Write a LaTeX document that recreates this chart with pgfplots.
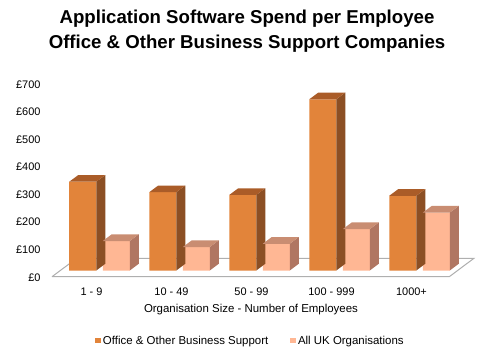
\documentclass[border=0pt]{standalone}
\usepackage{pgfplots}
\usepackage{pgfplotstable}
\pgfplotsset{compat=1.18}
\usepackage{fontspec}
\setmainfont{Liberation Sans}
\definecolor{ofront}{RGB}{226,132,58}
\definecolor{oside}{RGB}{140,79,36}
\definecolor{otop}{RGB}{170,92,40}
\definecolor{pfront}{RGB}{255,183,148}
\definecolor{pside}{RGB}{176,118,98}
\definecolor{ptop}{RGB}{201,141,114}
\definecolor{floorline}{RGB}{175,175,175}

\pgfplotstableread[row sep=\\]{x v\\ 0 322\\ 1 284\\ 2 274\\ 3 621\\ 4 271\\}\orangedata
\pgfplotstableread[row sep=\\]{x v\\ 0 107\\ 1 85\\ 2 97\\ 3 150\\ 4 210\\}\pinkdata

% side and top faces of a bar, drawn at the bar's top (value from the table)
\pgfdeclareplotmark{ocube}{%
  \pgfmathsetmacro\hh{\h*0.2757}%
  \pgfsetfillcolor{oside}%
  \pgfpathmoveto{\pgfpoint{-3.25bp}{0bp}}%
  \pgfpathlineto{\pgfpoint{5.75bp}{6.7bp}}%
  \pgfpathlineto{\pgfpoint{5.75bp}{6.7bp-\hh bp}}%
  \pgfpathlineto{\pgfpoint{-3.25bp}{-\hh bp}}%
  \pgfpathclose\pgfusepath{fill}%
  \pgfsetfillcolor{otop}%
  \pgfpathmoveto{\pgfpoint{-30.25bp}{0bp}}%
  \pgfpathlineto{\pgfpoint{-3.25bp}{0bp}}%
  \pgfpathlineto{\pgfpoint{5.75bp}{6.7bp}}%
  \pgfpathlineto{\pgfpoint{-21.25bp}{6.7bp}}%
  \pgfpathclose\pgfusepath{fill}%
}
\pgfdeclareplotmark{pcube}{%
  \pgfmathsetmacro\hh{\h*0.2757}%
  \pgfsetfillcolor{pside}%
  \pgfpathmoveto{\pgfpoint{30.25bp}{0bp}}%
  \pgfpathlineto{\pgfpoint{39.25bp}{6.7bp}}%
  \pgfpathlineto{\pgfpoint{39.25bp}{6.7bp-\hh bp}}%
  \pgfpathlineto{\pgfpoint{30.25bp}{-\hh bp}}%
  \pgfpathclose\pgfusepath{fill}%
  \pgfsetfillcolor{ptop}%
  \pgfpathmoveto{\pgfpoint{3.25bp}{0bp}}%
  \pgfpathlineto{\pgfpoint{30.25bp}{0bp}}%
  \pgfpathlineto{\pgfpoint{39.25bp}{6.7bp}}%
  \pgfpathlineto{\pgfpoint{12.25bp}{6.7bp}}%
  \pgfpathclose\pgfusepath{fill}%
}

\begin{document}
\begin{tikzpicture}
\useasboundingbox (-99.5bp,-85.5bp) rectangle (400.5bp,270.5bp);
\begin{axis}[
  anchor=origin, at={(0,0)},
  x=80bp, y=0.2757bp,
  xmin=-0.6, xmax=4.7, ymin=-25, ymax=700,
  clip=false,
  axis line style={draw=none},
  tick style={draw=none},
  major tick length=0pt,
  xtick={-0.1,0.9,1.9,2.9,3.9},
  xticklabels={1 - 9, 10 - 49, 50 - 99, 100 - 999, 1000+},
  ytick={0,100,200,300,400,500,600,700},
  yticklabels={£0,£100,£200,£300,£400,£500,£600,£700},
  xticklabel style={anchor=base, yshift=-18.3bp, inner sep=0pt, font=\fontsize{11}{13}\selectfont},
  yticklabel style={anchor=east, xshift=-10.8bp, yshift=-6.8bp, inner sep=0pt, font=\fontsize{11}{13}\selectfont},
  xlabel={Organisation Size - Number of Employees},
  xlabel style={at={(0.4705,-0.1746)}, anchor=base, inner sep=0pt, font=\fontsize{11.5}{13}\selectfont},
  title={Application Software Spend per Employee\\Office \& Other Business Support Companies},
  title style={at={(0.4611,1.2024)}, anchor=center, align=center, inner sep=0pt, font=\bfseries\fontsize{18.7}{24.7}\selectfont},
  legend style={at={(0.4693,-0.3167)}, anchor=center, draw=none, fill=none,
    font=\fontsize{11.5}{13}\selectfont, inner sep=0pt,
    /tikz/every even column/.append style={column sep=20bp}},
  legend columns=2,
]
% floor
\addplot[fill=white, draw=floorline, line width=1bp, forget plot]
  coordinates {(-0.594,-22.5) (4.3725,-22.5) (4.681,44.3) (-0.285,44.3) (-0.594,-22.5)};

\addplot[ybar, bar width=27bp, bar shift=-16.75bp, fill=ofront, draw=none,
  legend image code/.code={\fill[ofront] (0bp,-2.8bp) rectangle (5.7bp,2.8bp);}]
  table[x=x, y=v] {\orangedata};
\addlegendentry{Office \& Other Business Support}
\addplot[only marks, scatter, mark=ocube, forget plot,
  visualization depends on={rawy \as \h},
  scatter/@pre marker code/.code={}, scatter/@post marker code/.code={}]
  table[x=x, y=v] {\orangedata};

\addplot[ybar, bar width=27bp, bar shift=16.75bp, fill=pfront, draw=none,
  legend image code/.code={\fill[pfront] (0bp,-2.8bp) rectangle (5.7bp,2.8bp);}]
  table[x=x, y=v] {\pinkdata};
\addlegendentry{All UK Organisations}
\addplot[only marks, scatter, mark=pcube, forget plot,
  visualization depends on={rawy \as \h},
  scatter/@pre marker code/.code={}, scatter/@post marker code/.code={}]
  table[x=x, y=v] {\pinkdata};
\end{axis}
\end{tikzpicture}
\end{document}
